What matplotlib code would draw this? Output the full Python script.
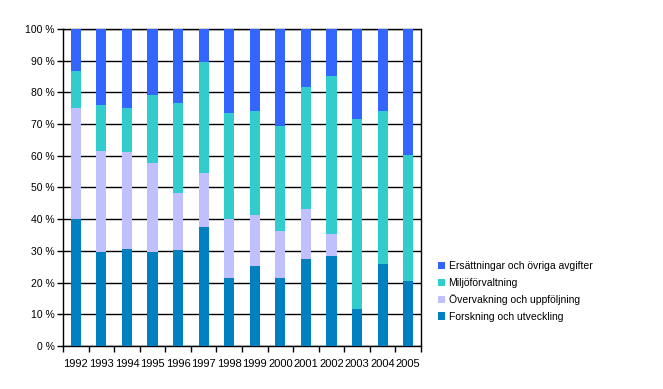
import numpy as np
import matplotlib
matplotlib.use("Agg")
import matplotlib.pyplot as plt

plt.rcParams['font.family'] = ['Liberation Sans', 'DejaVu Sans']

years = ['1992', '1993', '1994', '1995', '1996', '1997', '1998', '1999',
         '2000', '2001', '2002', '2003', '2004', '2005']

# shares in percent
forskning = [40.0, 29.8, 30.6, 29.8, 30.3, 37.5, 21.6, 25.2, 21.6, 27.5, 28.4, 11.8, 25.9, 20.6]
overvakning = [35.1, 31.7, 30.6, 27.9, 18.0, 17.1, 18.5, 16.1, 14.7, 15.7, 6.9, 0.0, 0.0, 0.0]
miljo = [11.7, 14.5, 13.9, 21.5, 28.4, 35.0, 33.4, 32.8, 33.1, 38.5, 49.9, 59.8, 48.2, 39.7]
ersattning = [13.2, 24.0, 24.9, 20.8, 23.3, 10.4, 26.5, 25.9, 30.6, 18.3, 14.8, 28.4, 25.9, 39.7]

series = [
    ('Forskning och utveckling', forskning, '#0080C0'),
    ('Övervakning och uppföljning', overvakning, '#C0C0FF'),
    ('Miljöförvaltning', miljo, '#33CCCC'),
    ('Ersättningar och övriga avgifter', ersattning, '#3366FF'),
]

fig = plt.figure(figsize=(6.63, 3.89), dpi=100)
ax = fig.add_axes([0.095, 0.1105, 0.54, 0.815])

x = np.arange(len(years))
bottom = np.zeros(len(years))
handles = []
for name, vals, col in series:
    vals = np.array(vals)
    h = ax.bar(x, vals, 0.4, bottom=bottom, color=col, label=name, zorder=3)
    handles.append(h)
    bottom += vals

ax.set_xlim(-0.5, len(years) - 0.5)
ax.set_ylim(0, 100)
ax.set_yticks(np.arange(0, 101, 10))
ax.set_yticklabels([f'{v} %' for v in range(0, 101, 10)])
ax.yaxis.grid(True, color='black', linewidth=1, zorder=0)
ax.set_xticks(x)
ax.set_xticklabels(years)
ax.set_xticks(np.arange(-0.5, len(years), 1), minor=True)
ax.tick_params(axis='x', which='major', length=0, pad=9, labelsize=8)
ax.tick_params(axis='x', which='minor', length=4, width=1, direction='out')
ax.tick_params(axis='y', length=4, width=1, labelsize=7.5, pad=2)
for s in ax.spines.values():
    s.set_linewidth(1)
    s.set_color('black')

leg = fig.legend(handles[::-1], [s[0] for s in series][::-1],
                 loc='upper left', bbox_to_anchor=(0.646, 0.352),
                 frameon=False, fontsize=7.5, handlelength=0.7, handleheight=0.7,
                 handletextpad=0.35, labelspacing=0.62)

fig.savefig('out.png', dpi=100)
